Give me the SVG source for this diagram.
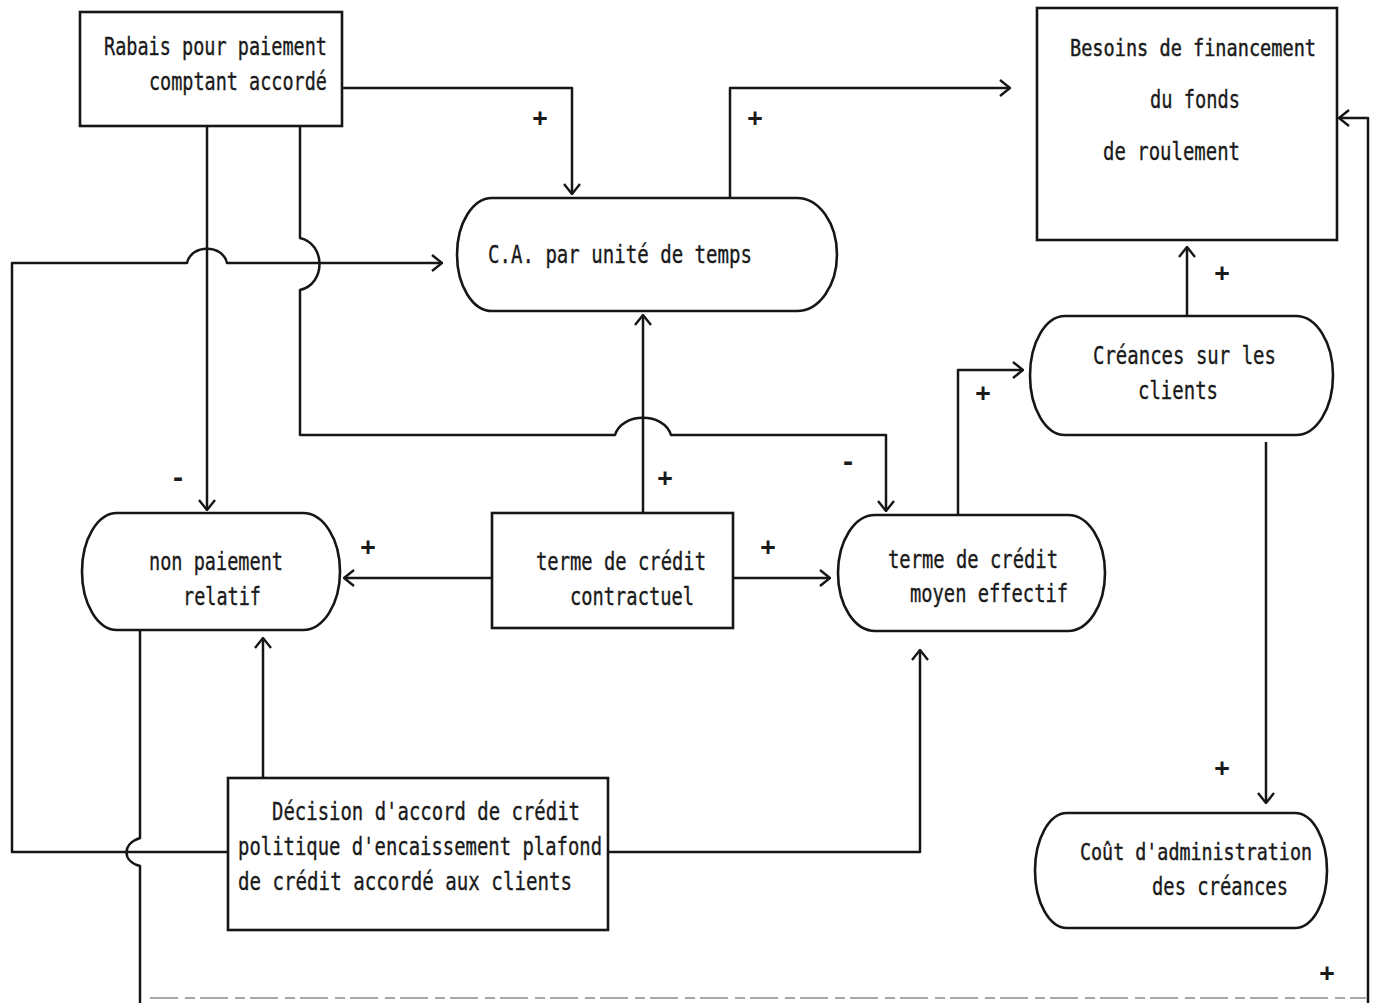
<svg xmlns="http://www.w3.org/2000/svg" width="1377" height="1003" viewBox="0 0 1377 1003">
<style>
.n{fill:#fff;stroke:#161616;stroke-width:2.6}
.t{font-family:"DejaVu Sans Mono","Liberation Mono",monospace;font-size:25px;fill:#1a1a1a;stroke:#1a1a1a;stroke-width:0.35}
.tn{font-size:23px;stroke-width:0.45}
.s{font-family:"DejaVu Sans Mono","Liberation Mono",monospace;font-size:25px;font-weight:bold;fill:#1a1a1a;text-anchor:middle}
.c{fill:none;stroke:#161616;stroke-width:2.5;stroke-linejoin:round}
.faint{fill:none;stroke:#8a8a8a;stroke-width:1.6;stroke-dasharray:28 7 10 5}
</style>
<defs>
<marker id="a" viewBox="0 0 12 18" refX="11" refY="9" markerWidth="12" markerHeight="18" markerUnits="userSpaceOnUse" orient="auto">
<path d="M1,1 L11,9 L1,17" fill="none" stroke="#161616" stroke-width="2.4"/>
</marker>
</defs>
<rect width="1377" height="1003" fill="#fff"/>
<g id="connectors">
<path class="c" d="M342,88 H572 V194" marker-end="url(#a)"/>
<path class="c" d="M730,198 V88 H1010" marker-end="url(#a)"/>
<path class="c" d="M207,126 V510" marker-end="url(#a)"/>
<path class="c" d="M300,126 V238 C326,244 326,284 300,290 V435 H615 C622,412 664,412 671,435 H886 V511" marker-end="url(#a)"/>
<path class="c" d="M228,852 H12 V263 H187 C191,244 223,244 227,263 H442" marker-end="url(#a)"/>
<path class="c" d="M643,513 V315" marker-end="url(#a)"/>
<path class="c" d="M492,578 H344" marker-end="url(#a)"/>
<path class="c" d="M733,578 H830" marker-end="url(#a)"/>
<path class="c" d="M958,515 V370 H1023" marker-end="url(#a)"/>
<path class="c" d="M1187,316 V247" marker-end="url(#a)"/>
<path class="c" d="M1266,442 V803" marker-end="url(#a)"/>
<path class="c" d="M263,777 V638" marker-end="url(#a)"/>
<path class="c" d="M608,852 H920 V650" marker-end="url(#a)"/>
<path class="c" d="M140,630 V838 C122,844 122,861 140,866 V1003"/>
<path class="faint" d="M150,998 H1366"/>
<path class="c" d="M1368,1003 V118 H1339" marker-end="url(#a)"/>
<text class="s" x="540" y="126">+</text>
<text class="s" x="755" y="126">+</text>
<text class="s" x="178" y="486">-</text>
<text class="s" x="848" y="470">-</text>
<text class="s" x="665" y="486">+</text>
<text class="s" x="368" y="555">+</text>
<text class="s" x="768" y="555">+</text>
<text class="s" x="983" y="401">+</text>
<text class="s" x="1222" y="281">+</text>
<text class="s" x="1222" y="776">+</text>
<text class="s" x="1327" y="981">+</text>
</g>
<g id="rabais">
<rect class="n" x="80" y="12" width="262" height="114"/>
<text class="t" x="104" y="55" textLength="223" lengthAdjust="spacingAndGlyphs">Rabais pour paiement</text>
<text class="t" x="149" y="90" textLength="178" lengthAdjust="spacingAndGlyphs">comptant accordé</text>
</g>
<g id="besoins">
<rect class="n" x="1037" y="8" width="300" height="232"/>
<text class="t tn" x="1070" y="56" textLength="246" lengthAdjust="spacingAndGlyphs">Besoins de financement</text>
<text class="t" x="1150" y="108" textLength="90" lengthAdjust="spacingAndGlyphs">du fonds</text>
<text class="t" x="1103" y="160" textLength="137" lengthAdjust="spacingAndGlyphs">de roulement</text>
</g>
<g id="ca">
<path class="n" d="M492,198 H797 A40,56.5 0 0 1 797,311 H492 A35,56.5 0 0 1 492,198 Z"/>
<text class="t" x="488" y="263" textLength="264" lengthAdjust="spacingAndGlyphs">C.A. par unité de temps</text>
</g>
<g id="creances">
<path class="n" d="M1065,316 H1296 A37,59.5 0 0 1 1296,435 H1065 A35,59.5 0 0 1 1065,316 Z"/>
<text class="t" x="1093" y="364" textLength="183" lengthAdjust="spacingAndGlyphs">Créances sur les</text>
<text class="t" x="1138" y="399" textLength="80" lengthAdjust="spacingAndGlyphs">clients</text>
</g>
<g id="nonpaiement">
<path class="n" d="M117,513 H303 A37,58.5 0 0 1 303,630 H117 A35,58.5 0 0 1 117,513 Z"/>
<text class="t" x="149" y="570" textLength="134" lengthAdjust="spacingAndGlyphs">non paiement</text>
<text class="t" x="183" y="605" textLength="78" lengthAdjust="spacingAndGlyphs">relatif</text>
</g>
<g id="contractuel">
<rect class="n" x="492" y="513" width="241" height="115"/>
<text class="t" x="536" y="570" textLength="170" lengthAdjust="spacingAndGlyphs">terme de crédit</text>
<text class="t" x="570" y="605" textLength="124" lengthAdjust="spacingAndGlyphs">contractuel</text>
</g>
<g id="moyen">
<path class="n" d="M875,515 H1068 A37,58 0 0 1 1068,631 H875 A37,58 0 0 1 875,515 Z"/>
<text class="t" x="888" y="568" textLength="170" lengthAdjust="spacingAndGlyphs">terme de crédit</text>
<text class="t" x="910" y="602" textLength="158" lengthAdjust="spacingAndGlyphs">moyen effectif</text>
</g>
<g id="decision">
<rect class="n" x="228" y="778" width="380" height="152"/>
<text class="t" x="272" y="820" textLength="308" lengthAdjust="spacingAndGlyphs">Décision d'accord de crédit</text>
<text class="t" x="238" y="855" textLength="364" lengthAdjust="spacingAndGlyphs">politique d'encaissement plafond</text>
<text class="t" x="238" y="890" textLength="334" lengthAdjust="spacingAndGlyphs">de crédit accordé aux clients</text>
</g>
<g id="cout">
<path class="n" d="M1067,813 H1295 A32,57.5 0 0 1 1295,928 H1067 A32,57.5 0 0 1 1067,813 Z"/>
<text class="t tn" x="1080" y="860" textLength="232" lengthAdjust="spacingAndGlyphs">Coût d'administration</text>
<text class="t" x="1152" y="895" textLength="136" lengthAdjust="spacingAndGlyphs">des créances</text>
</g>
</svg>
